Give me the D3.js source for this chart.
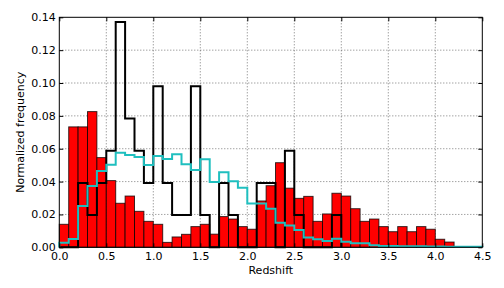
<!DOCTYPE html>
<html>
<head>
<meta charset="utf-8">
<script src="https://cdn.jsdelivr.net/npm/d3@7"></script>
<style>
  html, body { margin: 0; padding: 0; background: #fff; }
  svg { display: block; font-family: "DejaVu Sans", sans-serif; }
</style>
</head>
<body>
<svg id="chart" width="504" height="288"></svg>
<script>
// ---- data (bins of width 0.1 starting at 0.0) ----
const binWidth = 0.1;
const redValues = [0.014, 0.0733, 0.0733, 0.0826, 0.0546, 0.0406, 0.0268, 0.0312, 0.0219, 0.0158,
                   0.014, 0.003, 0.0063, 0.0079, 0.0126, 0.014, 0.008, 0.0187, 0.0172, 0.0126,
                   0.011, 0.0282, 0.0375, 0.0515, 0.036, 0.0298, 0.031, 0.0158, 0.0203, 0.0329,
                   0.0312, 0.0235, 0.0158, 0.0172, 0.0126, 0.0095, 0.0126, 0.0095, 0.0126, 0.011,
                   0.0049, 0.0032];
const blackValues = [0, 0, 0.0392, 0.0196, 0.0392, 0.0588, 0.1372, 0.0784, 0.0588, 0.0392,
                     0.098, 0.0392, 0.0196, 0.0196, 0.098, 0.0196, 0, 0.0392, 0.0196, 0,
                     0, 0.0392, 0.0392, 0, 0.0588, 0.0196, 0, 0, 0, 0.0196];
const cyanValues = [0.0028, 0.005, 0.0252, 0.0373, 0.0465, 0.0503, 0.0576, 0.0562, 0.055, 0.0501,
                    0.0556, 0.0538, 0.0566, 0.0505, 0.047, 0.0536, 0.0398, 0.0457, 0.0402, 0.0363,
                    0.0266, 0.0266, 0.0235, 0.015, 0.0132, 0.0105, 0.0059, 0.0049, 0.0038, 0.0052,
                    0.0034, 0.0024, 0.0024, 0.0012, 0.0008, 0.0008, 0.0007, 0.0006, 0.0006, 0.0005,
                    0.0005, 0.0004, 0.0004, 0.0003, 0.0003];
const xTicks = [0.0, 0.5, 1.0, 1.5, 2.0, 2.5, 3.0, 3.5, 4.0, 4.5];
const yTicks = [0.00, 0.02, 0.04, 0.06, 0.08, 0.10, 0.12, 0.14];
const xLabel = "Redshift";
const yLabel = "Normalized frequency";

// ---- layout ----
const svg = d3.select("#chart");
const pL = 59.3, pR = 482.3, pT = 17.3, pB = 247.3;
const x = d3.scaleLinear().domain([0, 4.5]).range([pL, pR]);
const y = d3.scaleLinear().domain([0, 0.14]).range([pB, pT]);

// grid
const grid = svg.append("g");
grid.selectAll("line.gx").data(xTicks.slice(1, -1)).enter().append("line")
  .attr("x1", d => x(d)).attr("x2", d => x(d)).attr("y1", pT).attr("y2", pB)
  .attr("stroke", "#444").attr("stroke-width", 0.7).attr("stroke-dasharray", "1,2");
grid.selectAll("line.gy").data(yTicks.slice(1, -1)).enter().append("line")
  .attr("x1", pL).attr("x2", pR).attr("y1", d => y(d)).attr("y2", d => y(d))
  .attr("stroke", "#444").attr("stroke-width", 0.7).attr("stroke-dasharray", "1,2");

// red bars
svg.append("g").selectAll("rect").data(redValues).enter().append("rect")
  .attr("x", (d, i) => x(i * binWidth))
  .attr("width", (d, i) => x((i + 1) * binWidth) - x(i * binWidth))
  .attr("y", d => y(d))
  .attr("height", d => y(0) - y(d))
  .attr("fill", "#ff0000")
  .attr("stroke", "#000").attr("stroke-opacity", 0.75).attr("stroke-width", 1);

// step outline helper
function stepPoints(vals) {
  const pts = [[0, 0]];
  vals.forEach((v, i) => {
    pts.push([i * binWidth, v]);
    pts.push([(i + 1) * binWidth, v]);
  });
  pts.push([vals.length * binWidth, 0]);
  return pts;
}
const line = d3.line().x(d => x(d[0])).y(d => y(d[1]));

svg.append("path").datum(stepPoints(blackValues))
  .attr("d", line).attr("fill", "none").attr("stroke", "#000").attr("stroke-width", 2)
  .attr("stroke-linejoin", "miter");
svg.append("path").datum(stepPoints(cyanValues))
  .attr("d", line).attr("fill", "none").attr("stroke", "#1fbfbf").attr("stroke-width", 2)
  .attr("stroke-linejoin", "miter");

// frame
svg.append("rect").attr("x", pL).attr("y", pT).attr("width", pR - pL).attr("height", pB - pT)
  .attr("fill", "none").attr("stroke", "#000").attr("stroke-width", 1);

// axes with inward ticks
const xAxis = d3.axisBottom(x).tickValues(xTicks).tickFormat(d3.format(".1f")).tickSizeInner(-4).tickSizeOuter(0).tickPadding(4.5);
const yAxis = d3.axisLeft(y).tickValues(yTicks).tickFormat(d3.format(".2f")).tickSizeInner(-4).tickSizeOuter(0).tickPadding(3.5);
const gx = svg.append("g").attr("transform", `translate(0,${pB})`).call(xAxis);
const gy = svg.append("g").attr("transform", `translate(${pL},0)`).call(yAxis);
[gx, gy].forEach(g => {
  g.select(".domain").remove();
  g.selectAll("text").attr("font-size", 11).attr("font-family", "DejaVu Sans, sans-serif").attr("fill", "#000");
  g.selectAll("line").attr("stroke", "#000");
});
// top and right ticks
svg.append("g").attr("transform", `translate(0,${pT})`)
  .call(d3.axisTop(x).tickValues(xTicks).tickSizeInner(-4).tickSizeOuter(0).tickFormat(""))
  .call(g => { g.select(".domain").remove(); g.selectAll("line").attr("stroke", "#000"); });
svg.append("g").attr("transform", `translate(${pR},0)`)
  .call(d3.axisRight(y).tickValues(yTicks).tickSizeInner(-4).tickSizeOuter(0).tickFormat(""))
  .call(g => { g.select(".domain").remove(); g.selectAll("line").attr("stroke", "#000"); });

// labels
svg.append("text").attr("x", (pL + pR) / 2).attr("y", 274).attr("text-anchor", "middle")
  .attr("font-size", 11).text(xLabel);
svg.append("text").attr("transform", `translate(24,${(pT + pB) / 2}) rotate(-90)`)
  .attr("text-anchor", "middle").attr("font-size", 11).text(yLabel);
</script>
</body>
</html>
